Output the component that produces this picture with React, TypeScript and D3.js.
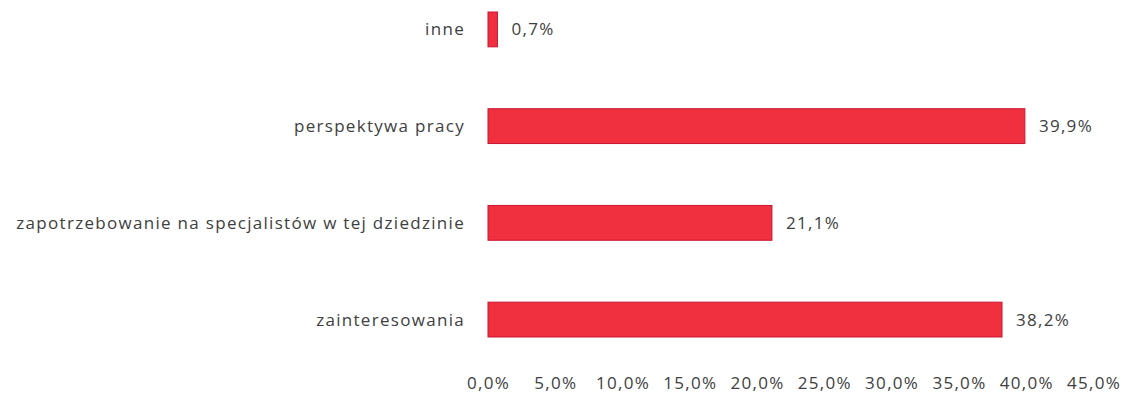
import React, { useRef, useEffect } from 'react';
import * as d3 from 'd3';

const categories = ['inne', 'perspektywa pracy', 'zapotrzebowanie na specjalistów w tej dziedzinie', 'zainteresowania'];
const values = [0.7, 39.9, 21.1, 38.2];
const ticks = [0, 5, 10, 15, 20, 25, 30, 35, 40, 45];

const fmt = (v: number) => v.toFixed(1).replace('.', ',') + '%';

const App: React.FC = () => {
  const svgRef = useRef<SVGSVGElement | null>(null);

  useEffect(() => {
    if (!svgRef.current) return;
    const svg = d3.select(svgRef.current);
    svg.selectAll('*').remove();

    const width = 1125;
    const height = 407;
    const font = "'Open Sans', sans-serif";
    const textColor = '#404040';
    const fontSize = 17;
    const spacing = 1.3;

    const x = d3.scaleLinear().domain([0, 45]).range([488, 1093.5]);
    const y = d3.scaleBand<string>()
      .domain(categories)
      .range([-17, 366])
      .paddingInner(0.64)
      .paddingOuter(0.3);

    svg.attr('viewBox', `0 0 ${width} ${height}`);

    // Bars
    svg.append('g')
      .selectAll('rect')
      .data(categories)
      .enter()
      .append('rect')
      .attr('x', x(0))
      .attr('y', d => y(d)!)
      .attr('width', (d, i) => x(values[i]) - x(0))
      .attr('height', y.bandwidth())
      .attr('fill', '#f0303f')
      .attr('stroke', '#c81432')
      .attr('stroke-width', 1);

    // Value labels
    svg.append('g')
      .selectAll('text')
      .data(categories)
      .enter()
      .append('text')
      .attr('x', (d, i) => x(values[i]) + 14)
      .attr('y', d => y(d)! + y.bandwidth() / 2)
      .attr('dy', '0.35em')
      .attr('font-family', font)
      .attr('font-size', fontSize)
      .attr('letter-spacing', spacing)
      .attr('fill', textColor)
      .text((d, i) => fmt(values[i]));

    // Category labels
    svg.append('g')
      .selectAll('text')
      .data(categories)
      .enter()
      .append('text')
      .attr('x', x(0) - 23)
      .attr('y', d => y(d)! + y.bandwidth() / 2)
      .attr('dy', '0.35em')
      .attr('text-anchor', 'end')
      .attr('font-family', font)
      .attr('font-size', fontSize)
      .attr('letter-spacing', spacing)
      .attr('fill', textColor)
      .text(d => d);

    // X axis labels
    const axis = svg.append('g')
      .attr('transform', `translate(0,383)`)
      .call(d3.axisBottom(x).tickValues(ticks).tickSize(0).tickPadding(0).tickFormat(d => fmt(+d)));
    axis.select('.domain').remove();
    axis.selectAll('text')
      .attr('font-family', font)
      .attr('font-size', fontSize)
      .attr('letter-spacing', spacing)
      .attr('fill', textColor)
      .attr('dy', '0.35em');
  }, []);

  return (
    <svg
      ref={svgRef}
      width={1125}
      height={407}
      style={{ position: 'absolute', left: 0, top: 0, background: '#fff' }}
    />
  );
};

export default App;
